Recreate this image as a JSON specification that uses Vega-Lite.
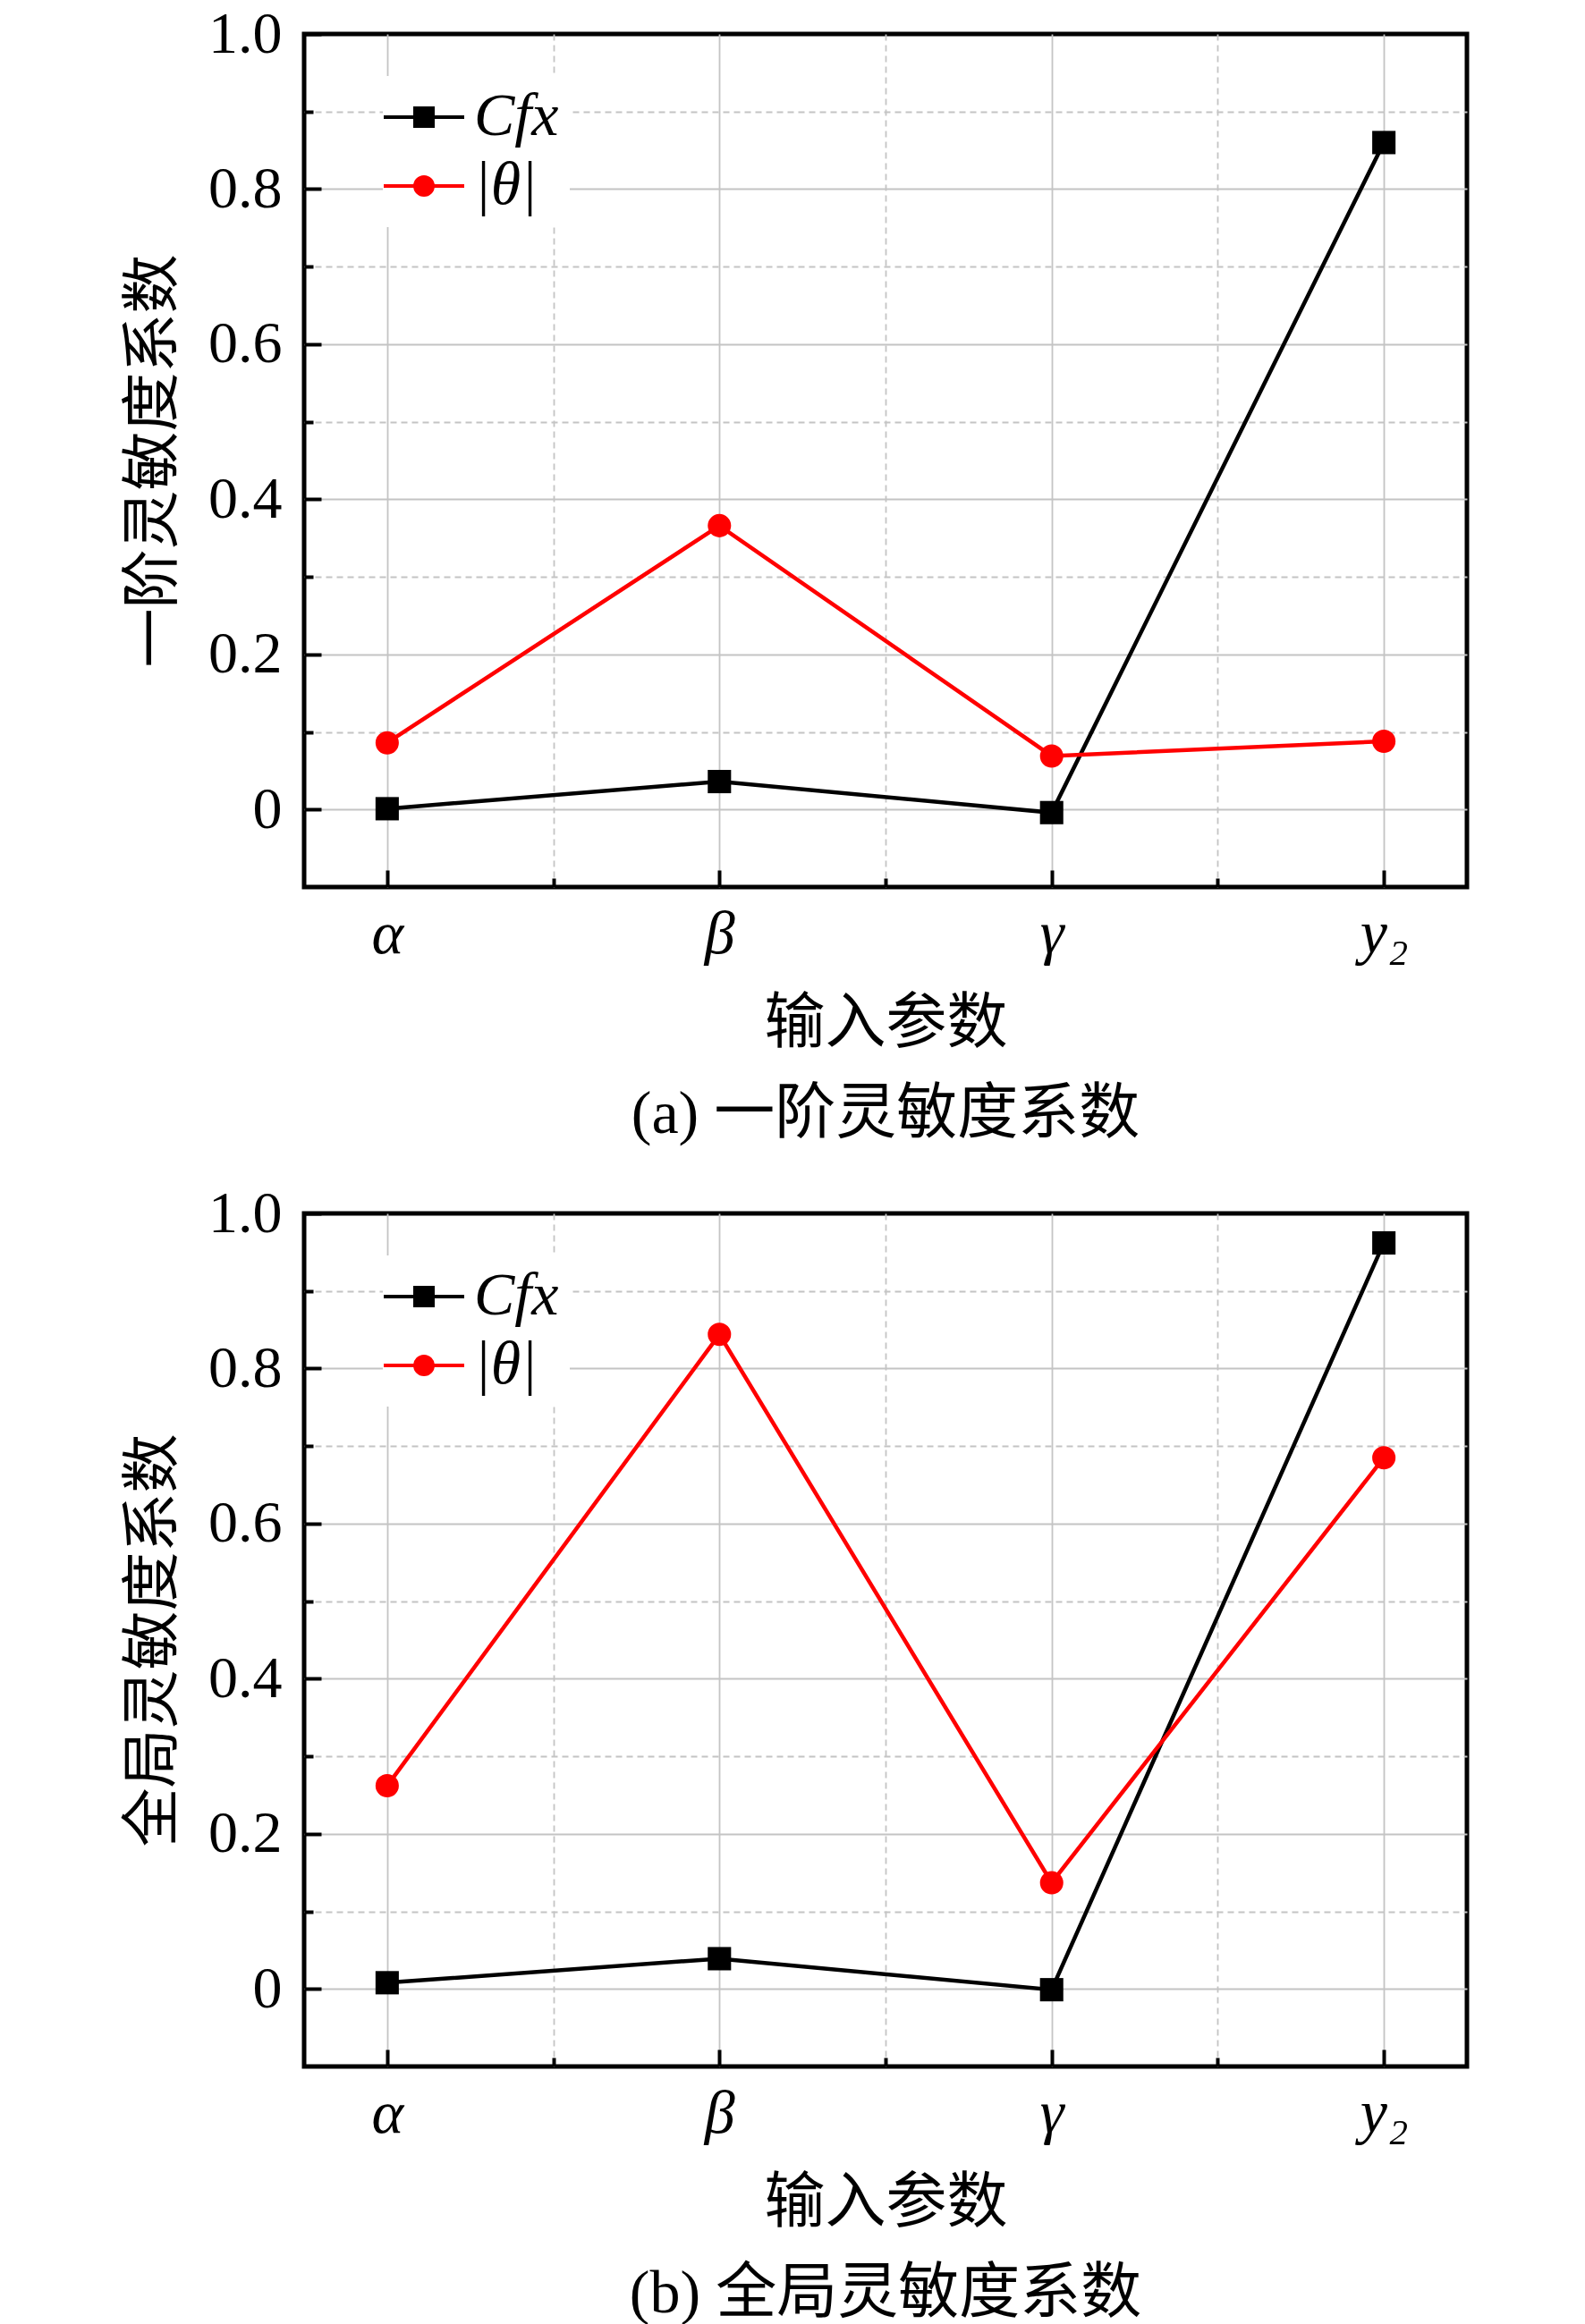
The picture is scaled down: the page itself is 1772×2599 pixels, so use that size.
{
  "$schema": "https://vega.github.io/schema/vega-lite/v6.json",
  "background": "white",
  "padding": {"left": 135, "top": 2, "right": 10, "bottom": 0},
  "spacing": 365,
  "bounds": "flush",
  "resolve": {"scale": {"color": "independent"}, "legend": {"color": "independent"}},
  "datasets": {
    "a": [
      {"param": "α", "series": "Cfx", "value": 0.001},
      {"param": "β", "series": "Cfx", "value": 0.036},
      {"param": "γ", "series": "Cfx", "value": -0.004},
      {"param": "y₂", "series": "Cfx", "value": 0.86},
      {"param": "α", "series": "|θ|", "value": 0.086},
      {"param": "β", "series": "|θ|", "value": 0.366},
      {"param": "γ", "series": "|θ|", "value": 0.069},
      {"param": "y₂", "series": "|θ|", "value": 0.088}
    ],
    "b": [
      {"param": "α", "series": "Cfx", "value": 0.008},
      {"param": "β", "series": "Cfx", "value": 0.039},
      {"param": "γ", "series": "Cfx", "value": -0.001},
      {"param": "y₂", "series": "Cfx", "value": 0.962},
      {"param": "α", "series": "|θ|", "value": 0.262},
      {"param": "β", "series": "|θ|", "value": 0.844},
      {"param": "γ", "series": "|θ|", "value": 0.137},
      {"param": "y₂", "series": "|θ|", "value": 0.685}
    ]
  },
  "config": {
    "view": {"stroke": "black", "strokeWidth": 5},
    "axis": {"labelColor": "black", "titleColor": "black", "tickColor": "black", "tickWidth": 4, "gridColor": "#c4c4c4", "gridWidth": 1.8, "domain": false},
    "legend": {"orient": "none", "legendX": 88, "legendY": 47, "title": null, "padding": 12, "fillColor": "white", "symbolSize": 400, "symbolStrokeWidth": 4, "labelFont": "Liberation Serif", "labelFontSize": 68, "labelFontStyle": "italic", "labelColor": "black", "labelOffset": 22, "rowPadding": 9}
  },
  "vconcat": [
    {
      "width": 1300,
      "height": 954,
      "data": {"name": "a"},
      "title": {"text": "(a) 一阶灵敏度系数", "orient": "bottom", "anchor": "middle", "offset": 34, "font": "Liberation Serif, Noto Sans CJK SC", "fontSize": 68, "fontWeight": "normal", "color": "black"},
      "layer": [
        {
          "mark": {"type": "line", "strokeWidth": 4.5},
          "encoding": {
            "x": {"field": "param", "type": "ordinal", "sort": ["α", "β", "γ", "y₂"],
              "scale": {"type": "point", "domain": ["α", "m1", "β", "m2", "γ", "m3", "y₂"], "padding": 0.5},
              "axis": {"values": ["α", "β", "γ", "y₂"], "orient": "bottom", "grid": true, "ticks": true, "tickSize": -19, "labelFont": "Liberation Serif", "labelFontStyle": "italic", "labelFontSize": 68, "labelPadding": 38, "labelAngle": 0, "title": "输入参数", "titleFont": "Noto Sans CJK SC", "titleFontSize": 68, "titleFontWeight": "normal", "titleY": 153, "titleBaseline": "middle"}},
            "y": {"field": "value", "type": "quantitative",
              "scale": {"domain": [-0.1, 1.0], "nice": false, "zero": false},
              "axis": {"values": [0, 0.2, 0.4, 0.6, 0.8, 1.0], "orient": "left", "labelExpr": "datum.value == 0 ? '0' : format(datum.value, '.1f')", "grid": true, "gridOpacity": {"condition": {"test": "datum.value > 0.99", "value": 0}, "value": 1}, "ticks": true, "tickSize": -19, "labelFont": "Liberation Serif", "labelFontSize": 66, "labelPadding": 44, "labelFlush": false, "labelOverlap": false, "labelBound": false, "title": "一阶灵敏度系数", "titleFont": "Noto Sans CJK SC", "titleFontSize": 66, "titleFontWeight": "normal", "titleX": -169, "titleBaseline": "middle"}},
            "color": {"field": "series", "type": "nominal", "scale": {"domain": ["Cfx", "|θ|"], "range": ["black", "#ff0000"]},
              "legend": {"encode": {"symbols": {"update": {
                  "shape": {"signal": "datum.value === 'Cfx' ? 'M-4.5,0L4.5,0M-1,-1L1,-1L1,1L-1,1Z' : 'M-4.5,0L4.5,0M1,0A1,1,0,1,1,-1,0A1,1,0,1,1,1,0Z'"},
                  "fill": {"signal": "datum.value === 'Cfx' ? 'black' : '#ff0000'"},
                  "stroke": {"signal": "datum.value === 'Cfx' ? 'black' : '#ff0000'"},
                  "strokeWidth": {"value": 4},
                  "opacity": {"value": 1}
                }}}}}
          }
        },
        {
          "transform": [{"filter": "datum.series === 'Cfx'"}],
          "mark": {"type": "point", "shape": "square", "filled": true, "size": 680, "opacity": 1, "color": "black"},
          "encoding": {
            "x": {"field": "param", "type": "ordinal",
              "scale": {"type": "point", "domain": ["α", "m1", "β", "m2", "γ", "m3", "y₂"], "padding": 0.5},
              "axis": {"values": ["m1", "m2", "m3"], "orient": "bottom", "grid": true, "gridDash": [7, 5], "ticks": true, "tickSize": -10, "labels": false, "title": null}},
            "y": {"field": "value", "type": "quantitative",
              "scale": {"domain": [-0.1, 1.0], "nice": false, "zero": false},
              "axis": {"values": [0.1, 0.3, 0.5, 0.7, 0.9], "orient": "left", "grid": true, "gridDash": [7, 5], "ticks": true, "tickSize": -10, "labels": false, "title": null}}
          }
        },
        {
          "transform": [{"filter": "datum.series === '|θ|'"}],
          "mark": {"type": "point", "shape": "circle", "filled": true, "size": 680, "opacity": 1, "color": "#ff0000"},
          "encoding": {
            "x": {"field": "param", "type": "ordinal", "axis": null},
            "y": {"field": "value", "type": "quantitative", "axis": null}
          }
        }
      ],
      "resolve": {"axis": {"x": "independent", "y": "independent"}}
    },
    {
      "width": 1300,
      "height": 954,
      "data": {"name": "b"},
      "title": {"text": "(b) 全局灵敏度系数", "orient": "bottom", "anchor": "middle", "offset": 34, "font": "Liberation Serif, Noto Sans CJK SC", "fontSize": 68, "fontWeight": "normal", "color": "black"},
      "layer": [
        {
          "mark": {"type": "line", "strokeWidth": 4.5},
          "encoding": {
            "x": {"field": "param", "type": "ordinal", "sort": ["α", "β", "γ", "y₂"],
              "scale": {"type": "point", "domain": ["α", "m1", "β", "m2", "γ", "m3", "y₂"], "padding": 0.5},
              "axis": {"values": ["α", "β", "γ", "y₂"], "orient": "bottom", "grid": true, "ticks": true, "tickSize": -19, "labelFont": "Liberation Serif", "labelFontStyle": "italic", "labelFontSize": 68, "labelPadding": 38, "labelAngle": 0, "title": "输入参数", "titleFont": "Noto Sans CJK SC", "titleFontSize": 68, "titleFontWeight": "normal", "titleY": 153, "titleBaseline": "middle"}},
            "y": {"field": "value", "type": "quantitative",
              "scale": {"domain": [-0.1, 1.0], "nice": false, "zero": false},
              "axis": {"values": [0, 0.2, 0.4, 0.6, 0.8, 1.0], "orient": "left", "labelExpr": "datum.value == 0 ? '0' : format(datum.value, '.1f')", "grid": true, "gridOpacity": {"condition": {"test": "datum.value > 0.99", "value": 0}, "value": 1}, "ticks": true, "tickSize": -19, "labelFont": "Liberation Serif", "labelFontSize": 66, "labelPadding": 44, "labelFlush": false, "labelOverlap": false, "labelBound": false, "title": "全局灵敏度系数", "titleFont": "Noto Sans CJK SC", "titleFontSize": 66, "titleFontWeight": "normal", "titleX": -169, "titleBaseline": "middle"}},
            "color": {"field": "series", "type": "nominal", "scale": {"domain": ["Cfx", "|θ|"], "range": ["black", "#ff0000"]},
              "legend": {"encode": {"symbols": {"update": {
                  "shape": {"signal": "datum.value === 'Cfx' ? 'M-4.5,0L4.5,0M-1,-1L1,-1L1,1L-1,1Z' : 'M-4.5,0L4.5,0M1,0A1,1,0,1,1,-1,0A1,1,0,1,1,1,0Z'"},
                  "fill": {"signal": "datum.value === 'Cfx' ? 'black' : '#ff0000'"},
                  "stroke": {"signal": "datum.value === 'Cfx' ? 'black' : '#ff0000'"},
                  "strokeWidth": {"value": 4},
                  "opacity": {"value": 1}
                }}}}}
          }
        },
        {
          "transform": [{"filter": "datum.series === 'Cfx'"}],
          "mark": {"type": "point", "shape": "square", "filled": true, "size": 680, "opacity": 1, "color": "black"},
          "encoding": {
            "x": {"field": "param", "type": "ordinal",
              "scale": {"type": "point", "domain": ["α", "m1", "β", "m2", "γ", "m3", "y₂"], "padding": 0.5},
              "axis": {"values": ["m1", "m2", "m3"], "orient": "bottom", "grid": true, "gridDash": [7, 5], "ticks": true, "tickSize": -10, "labels": false, "title": null}},
            "y": {"field": "value", "type": "quantitative",
              "scale": {"domain": [-0.1, 1.0], "nice": false, "zero": false},
              "axis": {"values": [0.1, 0.3, 0.5, 0.7, 0.9], "orient": "left", "grid": true, "gridDash": [7, 5], "ticks": true, "tickSize": -10, "labels": false, "title": null}}
          }
        },
        {
          "transform": [{"filter": "datum.series === '|θ|'"}],
          "mark": {"type": "point", "shape": "circle", "filled": true, "size": 680, "opacity": 1, "color": "#ff0000"},
          "encoding": {
            "x": {"field": "param", "type": "ordinal", "axis": null},
            "y": {"field": "value", "type": "quantitative", "axis": null}
          }
        }
      ],
      "resolve": {"axis": {"x": "independent", "y": "independent"}}
    }
  ]
}
